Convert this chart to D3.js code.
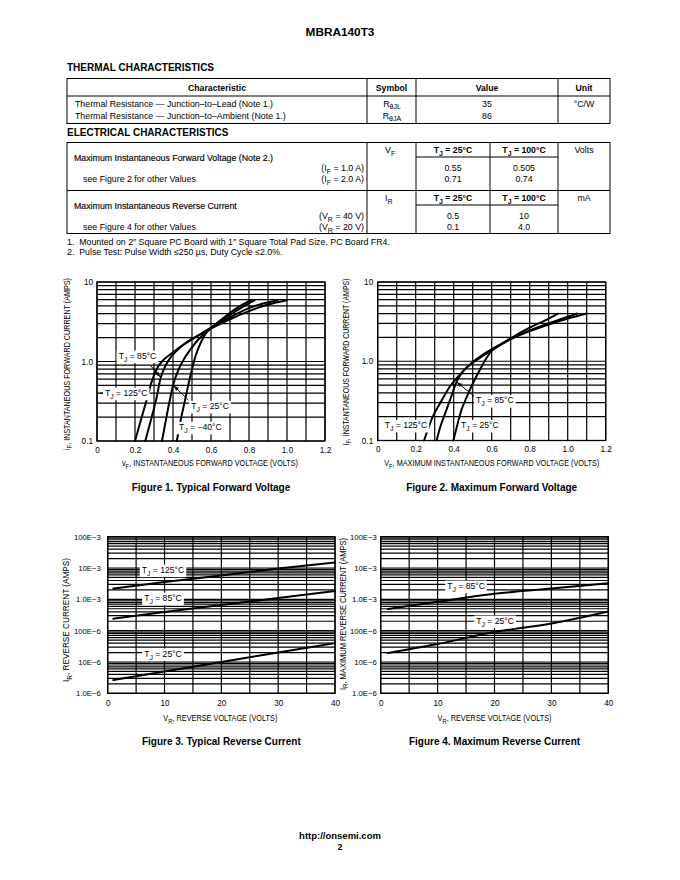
<!DOCTYPE html>
<html><head><meta charset="utf-8">
<script src="https://cdn.jsdelivr.net/npm/d3@7"></script>
<style>body{margin:0;background:#fff}svg{display:block}</style>
</head><body><svg id="page" width="680" height="880"></svg>
<script>
// ---------------- DATA ----------------
const pageTitle = "MBRA140T3";
const thermalTitle = "THERMAL CHARACTERISTICS";
const electricalTitle = "ELECTRICAL CHARACTERISTICS";
const thermalHeaders = ["Characteristic", "Symbol", "Value", "Unit"];
const thermalRows = ["Thermal Resistance — Junction–to–Lead (Note 1.)", "Thermal Resistance — Junction–to–Ambient (Note 1.)"];
const thermalSymbolSubs = ["θJL", "θJA"];
const thermalValues = ["35", "86"];
const thermalUnit = "°C/W";

const vfTitle = "Maximum Instantaneous Forward Voltage (Note 2.)";
const vfNote = "see Figure 2 for other Values";
const vfCond = ["1.0 A", "2.0 A"];
const vfAt25 = ["0.55", "0.71"];
const vfAt100 = ["0.505", "0.74"];
const irTitle = "Maximum Instantaneous Reverse Current";
const irNote = "see Figure 4 for other Values";
const irCond = ["40 V", "20 V"];
const irAt25 = ["0.5", "0.1"];
const irAt100 = ["10", "4.0"];
const tempHeaders = ["25°C", "100°C"];
const footnotes = ["1.  Mounted on 2″ Square PC Board with 1″ Square Total Pad Size, PC Board FR4.",
                   "2.  Pulse Test: Pulse Width ≤250 µs, Duty Cycle ≤2.0%."];

// Figure 1 — Typical Forward Voltage  [V, A]
const fig1XTicks = [0, 0.2, 0.4, 0.6, 0.8, 1.0, 1.2];
const fig1XTickLabels = ["0", "0.2", "0.4", "0.6", "0.8", "1.0", "1.2"];
const fig1YTicks = [0.1, 1, 10];
const fig1YTickLabels = ["0.1", "1.0", "10"];
const fig1_T125 = [[0.20,0.1],[0.23,0.18],[0.26,0.32],[0.29,0.58],[0.32,0.85],[0.35,1.05],[0.39,1.25],[0.45,1.6],[0.50,1.9],[0.56,2.3],[0.62,2.75],[0.70,3.4],[0.80,4.3],[0.90,5.2],[1.00,5.9]];
const fig1_T85  = [[0.254,0.1],[0.28,0.17],[0.31,0.32],[0.335,0.62],[0.36,0.88],[0.39,1.15],[0.43,1.45],[0.48,1.8],[0.55,2.25],[0.62,2.85],[0.70,3.6],[0.80,4.7],[0.88,5.4],[0.95,5.9]];
const fig1_T25  = [[0.342,0.1],[0.36,0.17],[0.38,0.3],[0.40,0.5],[0.43,0.8],[0.46,1.1],[0.49,1.4],[0.53,1.85],[0.57,2.3],[0.62,2.85],[0.68,3.6],[0.75,4.6],[0.83,5.9]];
const fig1_Tm40 = [[0.42,0.1],[0.44,0.18],[0.46,0.3],[0.48,0.5],[0.50,0.8],[0.52,1.2],[0.545,1.7],[0.57,2.2],[0.61,2.75],[0.66,3.45],[0.73,4.6],[0.81,5.9]];

// Figure 2 — Maximum Forward Voltage  [V, A]
const fig2XTicks = fig1XTicks;
const fig2XTickLabels = fig1XTickLabels;
const fig2YTicks = fig1YTicks;
const fig2YTickLabels = fig1YTickLabels;
const fig2_T125 = [[0.244,0.1],[0.29,0.2],[0.33,0.3],[0.38,0.48],[0.425,0.65],[0.45,0.75],[0.50,0.98],[0.55,1.2],[0.60,1.42],[0.70,1.9],[0.80,2.4],[0.90,2.9],[1.00,3.45],[1.10,4.0]];
const fig2_T85  = [[0.31,0.1],[0.33,0.15],[0.355,0.22],[0.38,0.32],[0.415,0.55],[0.45,0.75],[0.48,0.88],[0.52,1.03],[0.60,1.38],[0.70,1.9],[0.80,2.45],[0.90,3.0],[1.05,4.0]];
const fig2_T25  = [[0.398,0.1],[0.42,0.16],[0.44,0.24],[0.47,0.36],[0.50,0.52],[0.53,0.72],[0.56,0.98],[0.60,1.35],[0.65,1.65],[0.70,1.95],[0.80,2.65],[0.90,3.45],[0.95,4.0]];

// Figure 3 — Typical Reverse Current  [V, A]
const fig3XTicks = [0, 10, 20, 30, 40];
const fig3XTickLabels = ["0", "10", "20", "30", "40"];
const fig3YTicks = [1e-6, 1e-5, 1e-4, 1e-3, 1e-2, 1e-1];
const fig3YTickLabels = ["1.0E−6", "10E−6", "100E−6", "1.0E−3", "10E−3", "100E−3"];
const fig3_T125 = [[1,2.2e-3],[10,3.57e-3],[20,5.8e-3],[30,9.6e-3],[40,1.5e-2]];
const fig3_T85  = [[1,2.4e-4],[10,3.95e-4],[20,6.6e-4],[30,1.1e-3],[40,1.85e-3]];
const fig3_T25  = [[1,2.66e-6],[10,5.0e-6],[20,1.0e-5],[30,2.0e-5],[40,4.0e-5]];

// Figure 4 — Maximum Reverse Current  [V, A]
const fig4XTicks = fig3XTicks;
const fig4XTickLabels = fig3XTickLabels;
const fig4YTicks = fig3YTicks;
const fig4YTickLabels = fig3YTickLabels;
const fig4_T85 = [[1.3,4.9e-4],[10,8.4e-4],[20,1.5e-3],[30,2.2e-3],[40,3.25e-3]];
const fig4_T25 = [[1.3,1.93e-5],[10,3.75e-5],[20,9.0e-5],[30,1.7e-4],[40,4.1e-4]];

// ---------------- DRAWING ----------------
const FONT = '"Liberation Sans", Arial, Helvetica, sans-serif';
const svg = d3.select("#page");

function rich(parent, x, y, parts, o = {}) {
  const size = o.size || 8;
  const t = parent.append("text").attr("x", x).attr("y", y)
    .attr("font-family", FONT).attr("font-size", size)
    .attr("font-weight", o.weight || "normal")
    .attr("text-anchor", o.anchor || "start").attr("fill", "#000")
    .style("white-space", "pre");
  if (o.stroke) t.attr("stroke", "#000").attr("stroke-width", o.stroke);
  if (o.rotate) t.attr("transform", `rotate(${o.rotate},${x},${y})`);
  let sub = false;
  parts.forEach(p => {
    const isSub = Array.isArray(p);
    const ts = t.append("tspan").text(isSub ? p[0] : p);
    if (isSub) { ts.attr("font-size", size * 0.8); if (!sub) ts.attr("dy", size * 0.3); sub = true; }
    else { if (sub) ts.attr("dy", -size * 0.3); sub = false; }
  });
  if (o.length) t.attr("textLength", o.length).attr("lengthAdjust", "spacingAndGlyphs");
  return t;
}
const bl = (cy, size) => cy + size * 0.35;
function hline(x1, x2, y, w = 1) { svg.append("line").attr("x1", x1).attr("x2", x2).attr("y1", y).attr("y2", y).attr("stroke", "#000").attr("stroke-width", w); }
function vline(x, y1, y2, w = 1) { svg.append("line").attr("x1", x).attr("x2", x).attr("y1", y1).attr("y2", y2).attr("stroke", "#000").attr("stroke-width", w); }

const TS = 8.8;   // table body size
const HS = 8.7;   // table header size

// Page title
rich(svg, 340, bl(32, 11.8), [pageTitle], { size: 11.8, weight: "bold", anchor: "middle" });

// Thermal table
rich(svg, 67, bl(67.5, 10), [thermalTitle], { size: 10, weight: "bold" });
const tCols = [67, 367, 416, 558, 610];
const tTop = 78.5, tHead = 96, tBot = 123.5;
svg.append("rect").attr("x", tCols[0]).attr("y", tTop).attr("width", tCols[4] - tCols[0]).attr("height", tBot - tTop).attr("fill", "none").attr("stroke", "#000");
hline(tCols[0], tCols[4], tHead);
[1, 2, 3].forEach(i => vline(tCols[i], tTop, tBot));
thermalHeaders.forEach((h, i) => rich(svg, (tCols[i] + tCols[i + 1]) / 2, bl(87.5, HS), [h], { size: HS, weight: "bold", anchor: "middle" }));
thermalRows.forEach((r, i) => {
  const cy = 103.5 + i * 12;
  rich(svg, 75, bl(cy, TS), [r], { size: TS });
  rich(svg, 392, bl(cy, TS), ["R", [thermalSymbolSubs[i]]], { size: TS, anchor: "middle" });
  rich(svg, 487, bl(cy, TS), [thermalValues[i]], { size: TS, anchor: "middle" });
});
rich(svg, 584, bl(103.5, TS), [thermalUnit], { size: TS, anchor: "middle" });

// Electrical table
rich(svg, 67, bl(132, 10), [electricalTitle], { size: 10, weight: "bold" });
const eCols = [67, 367, 416, 490, 558, 610];
const eTop = 142.5, eMid = 190.5, eBot = 233.5;
svg.append("rect").attr("x", eCols[0]).attr("y", eTop).attr("width", eCols[5] - eCols[0]).attr("height", eBot - eTop).attr("fill", "none").attr("stroke", "#000");
hline(eCols[0], eCols[5], eMid);
[1, 2, 3, 4].forEach(i => vline(eCols[i], eTop, eBot));
hline(eCols[2], eCols[4], 157);
hline(eCols[2], eCols[4], 205);
const blocks = [
  { y0: eTop, title: vfTitle, note: vfNote, sym: ["V", ["F"]], condSym: ["(I", ["F"], " = "], cond: vfCond, v25: vfAt25, v100: vfAt100, unit: "Volts" },
  { y0: eMid, title: irTitle, note: irNote, sym: ["I", ["R"]], condSym: ["(V", ["R"], " = "], cond: irCond, v25: irAt25, v100: irAt100, unit: "mA" }
];
blocks.forEach(b => {
  const y0 = b.y0;
  rich(svg, 74, bl(y0 + 15.5, 8.8), [b.title], { size: 8.8, stroke: 0.15 });
  rich(svg, 83, bl(y0 + 36.5, TS), [b.note], { size: TS });
  rich(svg, 385, bl(y0 + 7.5, TS), b.sym, { size: TS });
  rich(svg, 584, bl(y0 + 7.5, TS), [b.unit], { size: TS, anchor: "middle" });
  tempHeaders.forEach((h, i) => rich(svg, (eCols[2 + i] + eCols[3 + i]) / 2, bl(y0 + 7.5, HS), ["T", ["J"], " = " + h], { size: HS, weight: "bold", anchor: "middle" }));
  b.cond.forEach((c, i) => {
    const cy = y0 + 25.5 + i * 11;
    rich(svg, 364, bl(cy, TS), [...b.condSym, c + ")"], { size: TS, anchor: "end" });
    rich(svg, (eCols[2] + eCols[3]) / 2, bl(cy, TS), [b.v25[i]], { size: TS, anchor: "middle" });
    rich(svg, (eCols[3] + eCols[4]) / 2, bl(cy, TS), [b.v100[i]], { size: TS, anchor: "middle" });
  });
});
footnotes.forEach((f, i) => rich(svg, 67, bl(241.5 + i * 10.5, TS), [f], { size: TS }));

// Chart builder
function chart(o) {
  const g = svg.append("g");
  const x = d3.scaleLinear().domain(o.xDomain).range([o.left, o.right]);
  const y = d3.scaleLog().domain(o.yDomain).range([o.bottom, o.top]);
  g.append("g").selectAll("line").data(y.ticks()).join("line")
    .attr("x1", o.left).attr("x2", o.right).attr("y1", d => y(d)).attr("y2", d => y(d))
    .attr("stroke", "#000").attr("stroke-width", 1.2);
  g.append("g").selectAll("line").data(x.ticks(o.xGridCount)).join("line")
    .attr("y1", o.top).attr("y2", o.bottom).attr("x1", d => x(d)).attr("x2", d => x(d))
    .attr("stroke", "#000").attr("stroke-width", 1.2);
  g.append("rect").attr("x", o.left).attr("y", o.top).attr("width", o.right - o.left).attr("height", o.bottom - o.top)
    .attr("fill", "none").attr("stroke", "#000").attr("stroke-width", 1.3);

  const xa = g.append("g").attr("transform", `translate(0,${o.bottom})`)
    .call(d3.axisBottom(x).tickValues(o.xTicks).tickFormat((d, i) => o.xTickLabels[i]).tickSize(0).tickPadding(o.xPad));
  xa.select(".domain").remove();
  xa.selectAll("text").attr("font-family", FONT).attr("font-size", 8.2).attr("fill", "#000");
  const ya = g.append("g").attr("transform", `translate(${o.left},0)`)
    .call(d3.axisLeft(y).tickValues(o.yTicks).tickFormat((d, i) => o.yTickLabels[i]).tickSize(0).tickPadding(o.yPad));
  ya.select(".domain").remove();
  ya.selectAll("text").attr("font-family", FONT).attr("font-size", o.yTickSize || 8.2).attr("fill", "#000");

  const line = d3.line().x(d => x(d[0])).y(d => y(d[1])).curve(d3.curveMonotoneX);
  o.series.forEach(s => g.append("path").attr("d", line(s)).attr("fill", "none")
    .attr("stroke", "#000").attr("stroke-width", 2).attr("stroke-linecap", "round"));

  o.labels.forEach(L => {
    if (L.line) {
      g.append("line").attr("x1", x(L.line[0][0])).attr("y1", y(L.line[0][1]))
        .attr("x2", x(L.line[1][0])).attr("y2", y(L.line[1][1])).attr("stroke", "#000").attr("stroke-width", 1.2);
    }
    if (L.leader) {
      const x1 = x(L.leader[0][0]), y1 = y(L.leader[0][1]), x2 = x(L.leader[1][0]), y2 = y(L.leader[1][1]);
      g.append("line").attr("x1", x1).attr("y1", y1).attr("x2", x2).attr("y2", y2).attr("stroke", "#000").attr("stroke-width", 1);
      const a = Math.atan2(y2 - y1, x2 - x1), len = 5.5, hw = 2;
      const bx = x2 - len * Math.cos(a), by = y2 - len * Math.sin(a);
      g.append("polygon").attr("points", [[x2, y2], [bx - hw * Math.sin(a), by + hw * Math.cos(a)], [bx + hw * Math.sin(a), by - hw * Math.cos(a)]].map(p => p.join(",")).join(" "))
        .attr("fill", "#000");
    }
    const size = 8.6;
    const t = rich(g, x(L.at[0]), bl(y(L.at[1]), size), L.parts, { size, anchor: "middle" });
    const bb = t.node().getBBox();
    g.insert("rect", () => t.node()).attr("x", bb.x - 2).attr("y", bb.y - 0.5).attr("width", bb.width + 4).attr("height", bb.height + 1).attr("fill", "#fff");
  });

  // axis titles and caption
  rich(svg, (o.left + o.right) / 2 + (o.xTitleShift || 0), bl(o.xTitleY, 8.4), o.xTitle, { size: 8.4, anchor: "middle", length: o.xTitleLen });
  rich(svg, o.yTitleX, o.yTitleCY, o.yTitle, { size: 8.4, anchor: "middle", rotate: -90, length: o.yTitleLen });
  rich(svg, (o.left + o.right) / 2 + (o.capShift || 0), bl(o.capY, 10), [o.caption], { size: 10, weight: "bold", anchor: "middle" });
}

const TJ = s => ["T", ["J"], " = " + s];

chart({
  left: 97, right: 325, top: 282, bottom: 441, xDomain: [0, 1.2], yDomain: [0.1, 10], xGridCount: 12,
  xTicks: fig1XTicks, xTickLabels: fig1XTickLabels, yTicks: fig1YTicks, yTickLabels: fig1YTickLabels, xPad: 6, yPad: 4,
  series: [fig1_T125, fig1_T85, fig1_T25, fig1_Tm40],
  labels: [
    { parts: TJ("85°C"), at: [0.213, 1.17], leader: [[0.281, 0.895], [0.333, 0.64]] },
    { parts: TJ("125°C"), at: [0.154, 0.4], line: [[0.017, 0.4], [0.272, 0.4]] },
    { parts: TJ("25°C"), at: [0.595, 0.273], leader: [[0.481, 0.326], [0.403, 0.5]] },
    { parts: TJ("−40°C"), at: [0.544, 0.149] }
  ],
  xTitle: ["v", ["F"], ", INSTANTANEOUS FORWARD VOLTAGE (VOLTS)"], xTitleY: 463.5, xTitleLen: 176, xTitleShift: -1,
  yTitle: ["i", ["F"], ", INSTANTANEOUS FORWARD CURRENT (AMPS)"], yTitleX: 69.5, yTitleCY: 364, yTitleLen: 172,
  caption: "Figure 1. Typical Forward Voltage", capY: 487.5
});

chart({
  left: 377.7, right: 605.7, top: 282, bottom: 440.5, xDomain: [0, 1.2], yDomain: [0.1, 10], xGridCount: 12,
  xTicks: fig2XTicks, xTickLabels: fig2XTickLabels, yTicks: fig2YTicks, yTickLabels: fig2YTickLabels, xPad: 6, yPad: 4.5,
  series: [fig2_T125, fig2_T85, fig2_T25],
  labels: [
    { parts: TJ("85°C"), at: [0.617, 0.32], leader: [[0.521, 0.338], [0.416, 0.548]] },
    { parts: TJ("125°C"), at: [0.149, 0.155] },
    { parts: TJ("25°C"), at: [0.538, 0.155] }
  ],
  xTitle: ["V", ["F"], ", MAXIMUM INSTANTANEOUS FORWARD VOLTAGE (VOLTS)"], xTitleY: 463.5, xTitleLen: 215,
  yTitle: ["I", ["F"], ", INSTANTANEOUS FORWARD CURRENT (AMPS)"], yTitleX: 348.5, yTitleCY: 362, yTitleLen: 167,
  caption: "Figure 2. Maximum Forward Voltage", capY: 487.5
});

chart({
  left: 107.7, right: 335, top: 536.7, bottom: 693.3, xDomain: [0, 40], yDomain: [1e-6, 1e-1], xGridCount: 8,
  xTicks: fig3XTicks, xTickLabels: fig3XTickLabels, yTicks: fig3YTicks, yTickLabels: fig3YTickLabels, xPad: 7, yPad: 7, yTickSize: 7.7,
  series: [fig3_T125, fig3_T85, fig3_T25],
  labels: [
    { parts: TJ("125°C"), at: [9.73, 8.6e-3] },
    { parts: TJ("85°C"), at: [9.73, 1.1e-3] },
    { parts: TJ("25°C"), at: [9.73, 1.8e-5] }
  ],
  xTitle: ["V", ["R"], ", REVERSE VOLTAGE (VOLTS)"], xTitleY: 718.5, xTitleLen: 114, xTitleShift: -1,
  yTitle: ["I", ["R"], ", REVERSE CURRENT (AMPS)"], yTitleX: 69, yTitleCY: 620, yTitleLen: 124,
  caption: "Figure 3. Typical Reverse Current", capY: 741.5
});

chart({
  left: 380.7, right: 608.3, top: 536.7, bottom: 693.3, xDomain: [0, 40], yDomain: [1e-6, 1e-1], xGridCount: 8,
  xTicks: fig4XTicks, xTickLabels: fig4XTickLabels, yTicks: fig4YTicks, yTickLabels: fig4YTickLabels, xPad: 7, yPad: 4, yTickSize: 7.7,
  series: [fig4_T85, fig4_T25],
  labels: [
    { parts: TJ("85°C"), at: [15.0, 2.66e-3] },
    { parts: TJ("25°C"), at: [20.1, 2.03e-4] }
  ],
  xTitle: ["V", ["R"], ", REVERSE VOLTAGE (VOLTS)"], xTitleY: 718.5, xTitleLen: 114,
  yTitle: ["I", ["R"], ", MAXIMUM REVERSE CURRENT (AMPS)"], yTitleX: 345.5, yTitleCY: 614, yTitleLen: 152,
  caption: "Figure 4. Maximum Reverse Current", capY: 741.5
});

// Footer
rich(svg, 340, bl(835.5, 9.5), ["http://onsemi.com"], { size: 9.5, weight: "bold", anchor: "middle" });
rich(svg, 340, bl(846.5, 9), ["2"], { size: 9, weight: "bold", anchor: "middle" });
</script>
</body></html>
